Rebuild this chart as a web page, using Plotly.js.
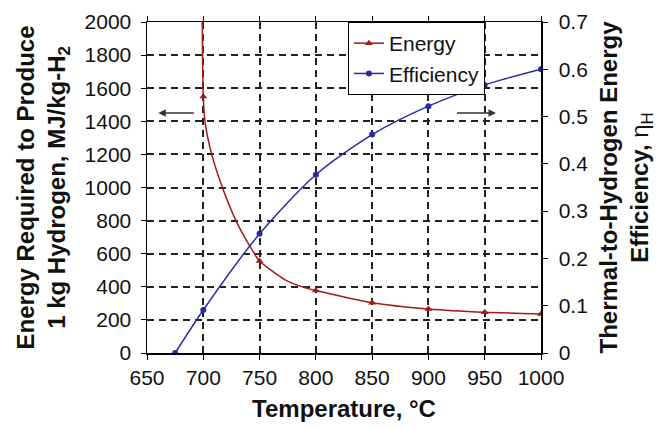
<!DOCTYPE html>
<html>
<head>
<meta charset="utf-8">
<script src="https://cdn.plot.ly/plotly-3.0.1.min.js"></script>
<style>html,body{margin:0;padding:0;background:#fff;}#chart{width:657px;height:429px;}</style>
</head>
<body>
<div id="chart"></div>
<script>
// Energy curve
var energyCurveT = [699.0, 699.4, 700, 701.5, 707.5, 717, 729, 741, 750, 774, 790, 800, 850, 900, 950, 1000];
var energyCurveV = [2100, 1750, 1550, 1400, 1200, 1000, 800, 650, 556, 437, 395, 378, 304, 266, 246, 236];
// Energy markers
var energyMarkT = [700, 750, 800, 850, 900, 950, 1000];
var energyMarkV = [1550, 556, 378, 304, 266, 246, 236];
// Efficiency markers / curve
var effT = [675, 700, 750, 800, 850, 900, 950, 1000];
var effV = [0, 0.091, 0.252, 0.377, 0.462, 0.522, 0.567, 0.600];

var red = '#A01A1A', blue = '#2A2AA8';
var F = 'Liberation Sans, Arial, sans-serif';

var traces = [
  {x: energyCurveT, y: energyCurveV, mode: 'lines', line: {color: red, width: 1.5, shape: 'spline', smoothing: 0.6}, showlegend: false, yaxis: 'y'},
  {x: energyMarkT, y: energyMarkV, mode: 'markers', marker: {color: red, symbol: 'triangle-up', size: 7}, showlegend: false, yaxis: 'y'},
  {x: effT, y: effV, mode: 'lines+markers', line: {color: blue, width: 1.5, shape: 'spline', smoothing: 0.8}, marker: {color: blue, symbol: 'circle', size: 6}, showlegend: false, yaxis: 'y2'},
  {x: [null], y: [null], name: 'Energy', mode: 'lines+markers', line: {color: red, width: 1.5}, marker: {color: red, symbol: 'triangle-up', size: 7}, yaxis: 'y'},
  {x: [null], y: [null], name: 'Efficiency', mode: 'lines+markers', line: {color: blue, width: 1.5}, marker: {color: blue, symbol: 'circle', size: 6}, yaxis: 'y2'}
];

var layout = {
  width: 657, height: 429,
  margin: {l: 147, r: 116, t: 22, b: 76},
  paper_bgcolor: '#fff', plot_bgcolor: '#fff',
  font: {family: F, color: '#111', size: 20},
  showlegend: true,
  legend: {x: 0.51, y: 1.0, xanchor: 'left', yanchor: 'top', bgcolor: '#fff', bordercolor: '#000', borderwidth: 1,
           font: {family: F, size: 21, color: '#111'}, itemwidth: 30, tracegroupgap: 0},
  xaxis: {range: [650, 1000], dtick: 50, tick0: 650, showline: true, linecolor: '#000', linewidth: 1.5, mirror: 'ticks',
          ticks: 'outside', ticklen: 5, tickcolor: '#000', showgrid: true, gridcolor: '#222', griddash: '7px,5px', gridwidth: 2,
          zeroline: false, tickfont: {family: F, size: 21}, ticklabelstandoff: 0,
          title: {text: 'Temperature, °C', font: {family: F, size: 24, weight: 'bold'}, standoff: 12}},
  yaxis: {range: [0, 2000], dtick: 200, showline: true, linecolor: '#000', linewidth: 1.5,
          ticks: 'outside', ticklen: 5, tickcolor: '#000', showgrid: true, gridcolor: '#222', griddash: '7px,5px', gridwidth: 2,
          zeroline: false, tickfont: {family: F, size: 21}, ticklabelstandoff: 5,
          title: {text: 'Energy Required to Produce<br>1 kg Hydrogen, MJ/kg-H<sub>2</sub>', font: {family: F, size: 24, weight: 'bold'}, standoff: 12}},
  yaxis2: {range: [0, 0.7], dtick: 0.1, overlaying: 'y', side: 'right', showline: true, linecolor: '#000', linewidth: 1.5,
           ticks: 'outside', ticklen: 5, tickcolor: '#000', showgrid: false, zeroline: false,
           tickfont: {family: F, size: 21}, ticklabelstandoff: 7,
           title: {text: 'Thermal-to-Hydrogen Energy<br>Efficiency, <span style="font-weight:normal">η<sub>H</sub></span>', font: {family: F, size: 24, weight: 'bold'}, standoff: 24}},
  annotations: [
    {x: 660, y: 1450, ax: 693, ay: 1450, xref: 'x', yref: 'y', axref: 'x', ayref: 'y', text: '', showarrow: true, arrowhead: 2, arrowsize: 1, arrowwidth: 1.5, arrowcolor: '#333'},
    {x: 960, y: 1450, ax: 924, ay: 1450, xref: 'x', yref: 'y', axref: 'x', ayref: 'y', text: '', showarrow: true, arrowhead: 2, arrowsize: 1, arrowwidth: 1.5, arrowcolor: '#333'}
  ]
};

Plotly.newPlot('chart', traces, layout, {staticPlot: true, displayModeBar: false});
</script>
</body>
</html>
